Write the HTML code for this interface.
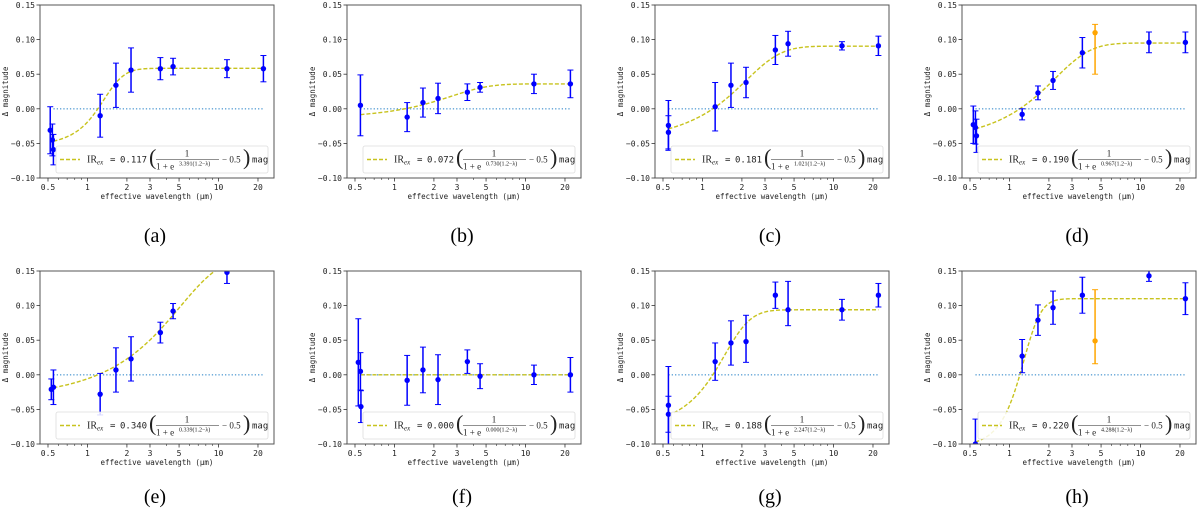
<!DOCTYPE html>
<html><head><meta charset="utf-8"><style>
html,body{margin:0;padding:0;background:#fff;}
svg{display:block;}
</style></head><body>
<svg id="fig" width="1200" height="509" viewBox="0 0 1200 509" xmlns="http://www.w3.org/2000/svg"></svg>
<script>
// ---- data (wavelength um, delta magnitude, error) ----
const lamA=[0.52,0.54,0.55,1.25,1.65,2.15,3.6,4.5,11.6,22];
const valA=[-0.031,-0.045,-0.059,-0.010,0.034,0.056,0.058,0.061,0.058,0.058];
const errA=[0.034,0.023,0.022,0.031,0.032,0.032,0.016,0.012,0.013,0.019];
const lamB=[0.55,1.25,1.65,2.15,3.6,4.5,11.6,22];
const valB=[0.005,-0.012,0.009,0.015,0.024,0.031,0.036,0.036];
const errB=[0.044,0.021,0.021,0.022,0.012,0.007,0.014,0.020];
const lamC=[0.55,0.55,1.25,1.65,2.15,3.6,4.5,11.6,22];
const valC=[-0.024,-0.034,0.003,0.034,0.038,0.085,0.094,0.091,0.091];
const errC=[0.036,0.024,0.035,0.032,0.022,0.021,0.018,0.006,0.014];
const lamD=[0.53,0.55,0.56,1.25,1.65,2.15,3.6,4.5,11.6,22];
const valD=[-0.023,-0.027,-0.039,-0.008,0.023,0.041,0.081,0.110,0.096,0.096];
const errD=[0.027,0.024,0.024,0.008,0.010,0.013,0.022,0.060,0.015,0.015];
const errUpD=[0.027,0.024,0.024,0.008,0.010,0.013,0.022,0.012,0.015,0.015];
const lamE=[0.53,0.55,1.25,1.65,2.15,3.6,4.5,11.6];
const valE=[-0.021,-0.018,-0.028,0.007,0.023,0.061,0.092,0.148];
const errE=[0.015,0.025,0.030,0.032,0.032,0.015,0.011,0.016];
const lamF=[0.53,0.55,0.555,1.25,1.65,2.15,3.6,4.5,11.6,22];
const valF=[0.018,0.005,-0.046,-0.008,0.007,-0.007,0.019,-0.002,0.000,0.000];
const errF=[0.063,0.027,0.023,0.036,0.033,0.036,0.017,0.018,0.014,0.025];
const lamG=[0.55,0.55,1.25,1.65,2.15,3.6,4.5,11.6,22];
const valG=[-0.044,-0.057,0.019,0.046,0.048,0.115,0.094,0.094,0.115];
const errG=[0.056,0.026,0.027,0.032,0.030,0.019,0.023,0.015,0.017];
const errUpG=[0.056,0.026,0.027,0.032,0.038,0.019,0.041,0.015,0.017];
const lamH=[0.55,1.25,1.65,2.15,3.6,4.5,11.6,22];
const valH=[-0.100,0.027,0.079,0.097,0.115,0.049,0.143,0.110];
const errH=[0.036,0.024,0.022,0.024,0.026,0.033,0.008,0.023];
const errUpH=[0.036,0.024,0.022,0.024,0.026,0.074,0.008,0.023];
const ampList=[0.117,0.072,0.181,0.190,0.340,0.000,0.188,0.220];
const kList=["3.391","0.730","1.021","0.967","0.339","0.000","2.247","4.288"];
const outlierD=[7];
const outlierH=[5];
const yTicks=[-0.10,-0.05,0.00,0.05,0.10,0.15];
const yTickLabels=["\u22120.10","\u22120.05","0.00","0.05","0.10","0.15"];
const xTicks=[0.5,1,2,3,5,10,20];
const xTickLabels=["0.5","1","2","3","5","10","20"];
const xMinor=[0.6,0.7,0.8,0.9,4,6,7,8,9];
const captions=["(a)","(b)","(c)","(d)","(e)","(f)","(g)","(h)"];

const panels=[
 {lam:lamA,val:valA,err:errA},{lam:lamB,val:valB,err:errB},
 {lam:lamC,val:valC,err:errC},{lam:lamD,val:valD,err:errD,errUp:errUpD,out:outlierD},
 {lam:lamE,val:valE,err:errE},{lam:lamF,val:valF,err:errF},
 {lam:lamG,val:valG,err:errG,errUp:errUpG},{lam:lamH,val:valH,err:errH,errUp:errUpH,out:outlierH}];
const lefts=[40,347,655,962];
const tops=[5,271];
const capOff=[64,59];
const W=234,H=173;
const XLO=Math.log10(0.4345),XHI=Math.log10(26.5);
const NS="http://www.w3.org/2000/svg";
const fig=document.getElementById('fig');
function mk(tag,attrs,parent){const e=document.createElementNS(NS,tag);for(const k in attrs)e.setAttribute(k,attrs[k]);(parent||fig).appendChild(e);return e;}

panels.forEach((p,i)=>{
 const row=Math.floor(i/4);
 const L=lefts[i%4],T=tops[row];
 const sx=l=>L+(Math.log10(l)-XLO)/(XHI-XLO)*W;
 const sy=v=>T+(0.15-v)/0.25*H;
 const g=mk('g',{});
 
 
 const clipId='clip'+i;
 const cp=mk('clipPath',{id:clipId},g);
 mk('rect',{x:L,y:T,width:W,height:H},cp);
 const zl=mk('line',{x1:sx(0.55),x2:sx(22),y1:sy(0),y2:sy(0),stroke:'#5fa2d6','stroke-width':1.3,'stroke-dasharray':'1.3,2'},g);
 
 
 const A=ampList[i],k=parseFloat(kList[i]);
 let d='';
 for(let j=0;j<=200;j++){const l=Math.pow(10,Math.log10(0.55)+j/200*(Math.log10(22)-Math.log10(0.55)));const v=A*(1/(1+Math.exp(k*(1.2-l)))-0.5);d+=(j?'L':'M')+sx(l).toFixed(2)+','+sy(v).toFixed(2);}
 const fc=mk('path',{d:d,fill:'none',stroke:'#c8c31e','stroke-width':1.4,'stroke-dasharray':'4,2','clip-path':'url(#'+clipId+')'},g);
 
 
 const pg=mk('g',{'clip-path':'url(#'+clipId+')'},g);
 p.lam.forEach((l,j)=>{
  const col=(p.out&&p.out.includes(j))?'#ffa500':'#0000ff';
  const x=sx(l),up=p.errUp?p.errUp[j]:p.err[j];
  const y1=sy(p.val[j]+up),y2=sy(p.val[j]-p.err[j]);
  const eb=mk('g',{stroke:col,'stroke-width':1.5},pg);
  
  
  mk('line',{x1:x,x2:x,y1:y1,y2:y2},eb);
  mk('line',{x1:x-3,x2:x+3,y1:y1,y2:y1,'stroke-width':1},eb);
  mk('line',{x1:x-3,x2:x+3,y1:y2,y2:y2,'stroke-width':1},eb);
  const c=mk('circle',{cx:x,cy:sy(p.val[j]),r:2.7,fill:col},pg);
  
  
 });
 const fr=mk('rect',{x:L,y:T,width:W,height:H,fill:'none',stroke:'#555','stroke-width':1},g);
 
 
 yTicks.forEach((v,j)=>{
  mk('line',{x1:L-3.5,x2:L,y1:sy(v),y2:sy(v),stroke:'#333','stroke-width':0.8},g);
  const t=mk('text',{x:L-5,y:sy(v)+3,'text-anchor':'end','font-family':'DejaVu Sans Mono, Liberation Mono, monospace','font-size':8,fill:'#222'},g);
  t.textContent=yTickLabels[j];
  
  
 });
 xTicks.forEach((v,j)=>{
  mk('line',{x1:sx(v),x2:sx(v),y1:T+H,y2:T+H+3.5,stroke:'#333','stroke-width':0.8},g);
  const t=mk('text',{x:sx(v),y:T+H+12,'text-anchor':'middle','font-family':'DejaVu Sans Mono, Liberation Mono, monospace','font-size':8,fill:'#222'},g);
  t.textContent=xTickLabels[j];
  
  
 });
 xMinor.forEach(v=>{mk('line',{x1:sx(v),x2:sx(v),y1:T+H,y2:T+H+2,stroke:'#333','stroke-width':0.6},g);});
 const xl=mk('text',{x:L+W/2,y:T+H+21,'text-anchor':'middle','font-family':'DejaVu Sans Mono, Liberation Mono, monospace','font-size':7.5,fill:'#222'},g);
 xl.textContent='effective wavelength (\u03bcm)';
 
 
 const yl=mk('text',{x:0,y:0,'text-anchor':'middle','font-family':'DejaVu Sans Mono, Liberation Mono, monospace','font-size':7.5,fill:'#222',transform:'translate('+(L-32)+','+(T+H/2)+') rotate(-90)'},g);
 yl.textContent='\u0394 magnitude';
 
 
 const x0=L+16,ly=T+H-32,cy=ly+13.5;
 const lg=mk('g',{},g);
 
 
 mk('rect',{x:x0,y:ly,width:W-22,height:27,fill:'#fff','fill-opacity':0.85,stroke:'#ddd','stroke-width':0.8,rx:2},lg);
 mk('line',{x1:x0+4,x2:x0+24,y1:cy,y2:cy,stroke:'#c8c31e','stroke-width':1.4,'stroke-dasharray':'4,2'},lg);
 const mono='DejaVu Sans Mono, Liberation Mono, monospace',ser='Liberation Serif, serif';
 const tx=(s,x,y,f,fs,extra)=>{const t=mk('text',Object.assign({x:x,y:y,'font-family':f,'font-size':fs,fill:'#222'},extra||{}),lg);t.textContent=s;return t;};
 tx('IR',x0+31,cy+3,ser,10);
 tx('ex',x0+41,cy+5,ser,7,{'font-style':'italic'});
 tx('=',x0+54,cy+3,mono,9);
 const num=tx(A.toFixed(3),x0+64,cy+3,mono,9);
 
 
 tx('(',x0+93,cy+5,ser,22,{'font-weight':'100'});
 tx('1',x0+131,cy-3,ser,9,{'text-anchor':'middle'});
 mk('line',{x1:x0+100,x2:x0+163,y1:cy,y2:cy,stroke:'#222','stroke-width':0.6},lg);
 tx('1 + e',x0+100,cy+10,ser,9);
 tx(kList[i]+'(1.2\u2212\u03bb)',x0+123,cy+6,ser,6);
 tx('\u2212 0.5',x0+166,cy+3,ser,9);
 tx(')',x0+187,cy+5,ser,22);
 tx('mag',x0+196,cy+3,mono,9);
 const cap=mk('text',{x:L+W/2-2,y:T+H+capOff[row],'text-anchor':'middle','font-family':'Liberation Serif, serif','font-size':20,fill:'#000'},g);
 cap.textContent=captions[i];
 
 
});
</script>
</body></html>
